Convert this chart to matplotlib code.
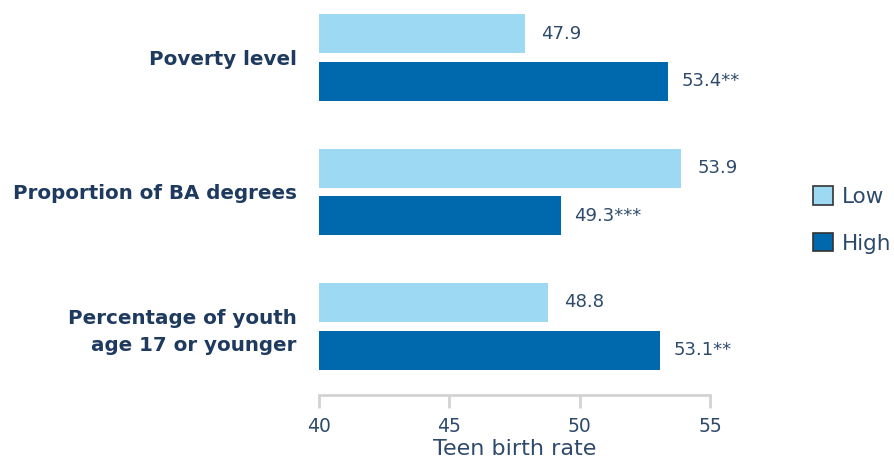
import matplotlib.pyplot as plt
from matplotlib.patches import Patch

categories = ['Poverty level', 'Proportion of BA degrees',
              'Percentage of youth\nage 17 or younger']
low_values = [47.9, 53.9, 48.8]
high_values = [53.4, 49.3, 53.1]
low_marks = ['', '', '']
high_marks = ['**', '***', '**']
series_names = ['Low', 'High']
xticks = [40, 45, 50, 55]

LIGHT = '#9dd9f3'
DARK = '#0068ad'
NAVY = '#1f3a5f'
TEXT = '#2e4a6b'
GRAY = '#d3d3d3'

plt.rcParams['font.family'] = ['DejaVu Sans']

fig = plt.figure(figsize=(8.95, 4.65), dpi=100)
ax = fig.add_axes([319 / 895, 1 - 395 / 465, (710 - 319) / 895, 395 / 465])

offset = 0.178
height = 0.29
ys = list(range(len(categories)))
low_y = [y - offset for y in ys]
high_y = [y + offset for y in ys]

ax.barh(low_y, [v - 40 for v in low_values], left=40, height=height, color=LIGHT)
ax.barh(high_y, [v - 40 for v in high_values], left=40, height=height, color=DARK)

for y, v, m in zip(low_y, low_values, low_marks):
    ax.text(v + 0.62, y, f'{v:.1f}{m}', va='center', ha='left', fontsize=13, color=TEXT)
for y, v, m in zip(high_y, high_values, high_marks):
    ax.text(v + 0.5, y, f'{v:.1f}{m}', va='center', ha='left', fontsize=13, color=TEXT)

ax.set_xlim(40, 55)
ax.set_ylim(2.51, -0.4275)
ax.set_xticks(xticks)
ax.set_xticklabels([str(t) for t in xticks], fontsize=13.5, color=TEXT)
ax.set_yticks(ys)
ax.set_yticklabels(categories, fontsize=14.3, fontweight='bold', color=NAVY,
                   linespacing=1.5)
ax.tick_params(axis='y', length=0, pad=16)
ax.tick_params(axis='x', direction='out', length=9, width=2, color=GRAY, pad=7)
for lab in ax.get_yticklabels():
    lab.set_horizontalalignment('right')

for s in ['top', 'right', 'left']:
    ax.spines[s].set_visible(False)
ax.spines['bottom'].set_color(GRAY)
ax.spines['bottom'].set_linewidth(2)

ax.set_xlabel('Teen birth rate', fontsize=16, color=TEXT, labelpad=2)

handles = [Patch(facecolor=LIGHT, edgecolor='#333333', linewidth=1.2),
           Patch(facecolor=DARK, edgecolor='#333333', linewidth=1.2)]
fig.legend(handles, series_names, loc='center left',
           bbox_to_anchor=(813 / 895, 1 - 220 / 465), frameon=False,
           fontsize=15.5, labelcolor=TEXT, handlelength=0.95, handleheight=0.95,
           handletextpad=0.4, labelspacing=1.2, borderaxespad=0, borderpad=0)

fig.savefig('out.png', dpi=100)
